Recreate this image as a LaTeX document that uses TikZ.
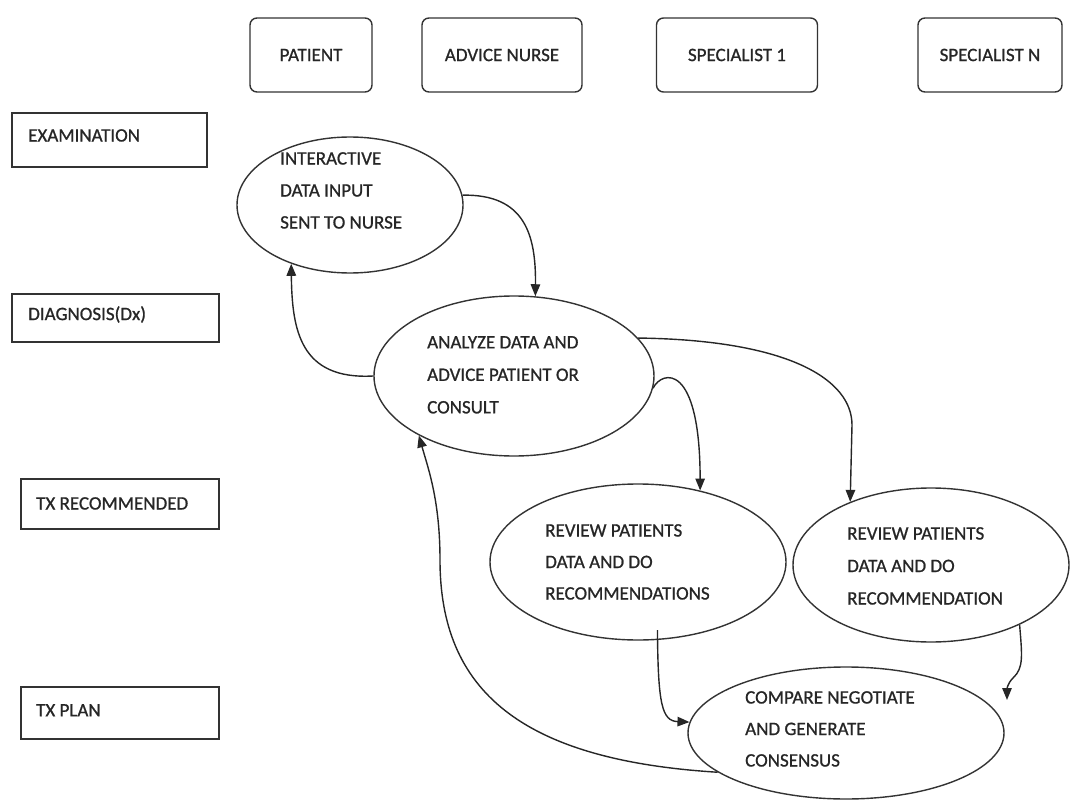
\documentclass[tikz,border=0pt]{standalone}
\usepackage{fontspec}
\setmainfont{Carlito}[FakeBold=0.9]
\usetikzlibrary{shapes.geometric,arrows.meta,calc}
\begin{document}
\begin{tikzpicture}[x=1pt,y=-1pt,
  ln/.style={draw=black!80, line width=1.4pt},
  hdr/.style={ln, rounded corners=7pt, inner sep=0pt, font=\fontsize{19}{22}\selectfont, text=black!85},
  lane/.style={ln, rectangle, inner sep=0pt},
  ell/.style={ln, ellipse, inner sep=0pt},
  txt/.style={inner sep=0pt, align=left, anchor=north west, text=black!85},
  conn/.style={draw=black!85, line width=1.4pt, -{Triangle[length=12pt,width=9.5pt]}}
]
\useasboundingbox (0,0) rectangle (1072,800);

% header boxes
\node[hdr, minimum width=122pt, minimum height=74pt] (hpat) at (311,55) {PATIENT};
\node[hdr, minimum width=160pt, minimum height=74pt] (hnur) at (502,55) {ADVICE NURSE};
\node[hdr, minimum width=161pt, minimum height=74pt] (hsp1) at (737,55) {SPECIALIST 1};
\node[hdr, minimum width=144pt, minimum height=74pt] (hspn) at (990,55) {SPECIALIST N};

% lane boxes
\node[lane, minimum width=195pt, minimum height=54pt] (lexa) at (109.5,140) {};
\node[txt, font=\fontsize{19}{22}\selectfont] (texa) at (28,129) {EXAMINATION};
\node[lane, minimum width=207pt, minimum height=48pt] (ldia) at (115.5,318) {};
\node[txt, font=\fontsize{19}{22}\selectfont] (tdia) at (28,306) {DIAGNOSIS(Dx)};
\node[lane, minimum width=198pt, minimum height=50pt] (ltxr) at (120,504) {};
\node[txt, font=\fontsize{19}{22}\selectfont] (ttxr) at (36,497) {TX RECOMMENDED};
\node[lane, minimum width=198pt, minimum height=52pt] (ltxp) at (120,713) {};
\node[txt, font=\fontsize{19}{22}\selectfont] (ttxp) at (36,704) {TX PLAN};

% ellipses
\node[ell, minimum width=226pt, minimum height=136pt] (e1) at (350,205) {};
\node[ell, minimum width=280pt, minimum height=160pt] (e2) at (514,376) {};
\node[ell, minimum width=296pt, minimum height=156pt] (e3) at (638,562) {};
\node[ell, minimum width=276pt, minimum height=154pt] (e4) at (931,565) {};
\node[ell, minimum width=316pt, minimum height=132pt] (e5) at (846,733) {};

% ellipse texts
\node[txt, font=\fontsize{19}{32}\selectfont] (t1) at (280,152) {INTERACTIVE\\DATA INPUT\\SENT TO NURSE};
\node[txt, font=\fontsize{19}{32.5}\selectfont] (t2) at (427,336) {ANALYZE DATA AND\\ADVICE PATIENT OR\\CONSULT};
\node[txt, font=\fontsize{19}{31.5}\selectfont] (t3) at (545,524) {REVIEW PATIENTS\\DATA AND DO\\RECOMMENDATIONS};
\node[txt, font=\fontsize{19}{32.5}\selectfont] (t4) at (847,527) {REVIEW PATIENTS\\DATA AND DO\\RECOMMENDATION};
\node[txt, font=\fontsize{19}{31.5}\selectfont] (t5) at (745,691) {COMPARE NEGOTIATE\\AND GENERATE\\CONSENSUS};

\coordinate (c5) at (1007,700);

% connectors
\draw[conn] (e1.5) .. controls (525,194) and (536,235) .. (e2.75);
\draw[conn] (e2.west) .. controls (300,380) and (292,330) .. (e1.225);
\draw[conn] (e2.-5) .. controls (662,370) and (700,362) .. (e3.49);
\draw[conn] (e2.17) .. controls (790,340) and (852,380) .. (852,425) -- (e4.142);
\draw[conn] (e4.-34) .. controls (1022,655) and (1024,668) .. (1013,678) .. controls (1007,684) and (1007,690) .. (c5);
\draw[conn] ([yshift=10pt]e3.-76) .. controls (658,705) and (662,721) .. (e5.176);
\draw[conn] (e5.197) .. controls (520,760) and (440,690) .. (440,560) .. controls (440,500) and (428,468) .. (e2.212);
\end{tikzpicture}
\end{document}
